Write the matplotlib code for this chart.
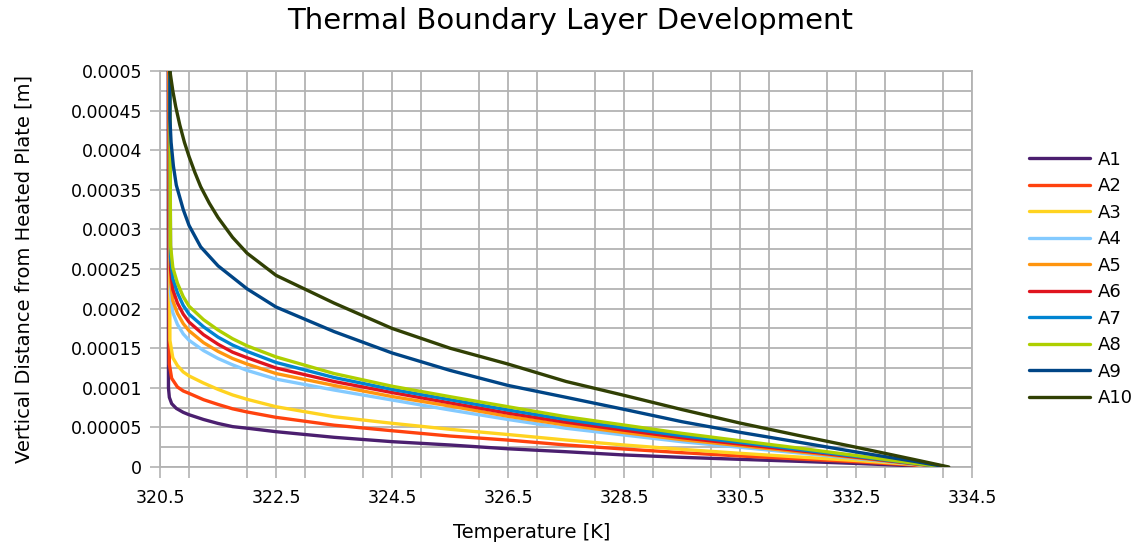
import matplotlib
matplotlib.use('Agg')
import matplotlib.pyplot as plt
from matplotlib.ticker import MultipleLocator

plt.rcParams['font.family'] = ['DejaVu Sans']

names = ['A1', 'A2', 'A3', 'A4', 'A5', 'A6', 'A7', 'A8', 'A9', 'A10']
colors = ['#4b1f6f', '#ff420e', '#ffd320', '#83caff', '#ff950e',
          '#e0141e', '#0084d1', '#aecf00', '#004586', '#314004']

# temperature [K] / height [m]
a1_t = [320.64, 320.645, 320.66, 320.7, 320.78, 320.9, 321.0, 321.25, 321.5, 321.75, 322.0, 322.5, 323.5,
        324.5, 325.5, 326.5, 327.5, 328.5, 329.5, 330.5, 331.5, 332.5, 333.5, 333.85]
a1_y = [0.0005, 0.0001, 0.000088, 0.00008, 0.000074, 0.000069, 0.000066, 0.00006, 0.000055, 0.000051,
        0.000049, 0.0000446, 0.0000375, 0.000032, 0.0000278, 0.000023, 0.0000193, 0.0000152, 0.0000122,
        0.0000097, 0.0000072, 0.0000045, 0.0000015, 0]

a2_t = [320.65, 320.66, 320.7, 320.8, 320.9, 321.0, 321.25, 321.5, 321.75, 322.0, 322.5, 323.5, 324.5,
        325.5, 326.5, 327.5, 328.5, 329.5, 330.5, 331.5, 332.5, 333.5, 333.9]
a2_y = [0.0005, 0.00013, 0.000112, 0.000101, 0.000096, 0.000093, 0.000085, 0.000079, 0.0000735, 0.0000695,
        0.0000627, 0.0000528, 0.0000458, 0.0000391, 0.000034, 0.0000278, 0.0000227, 0.0000181, 0.0000139,
        0.0000103, 0.0000067, 0.0000025, 0]

a3_t = [320.66, 320.67, 320.72, 320.8, 320.9, 321.0, 321.25, 321.5, 321.75, 322.0, 322.5, 323.5, 324.5,
        325.5, 326.5, 327.5, 328.5, 329.5, 330.5, 331.5, 332.5, 333.5, 333.95]
a3_y = [0.0005, 0.00016, 0.000138, 0.000128, 0.00012, 0.000115, 0.000106, 0.000098, 0.000091, 0.0000855,
        0.0000761, 0.0000635, 0.0000552, 0.0000476, 0.000041, 0.0000341, 0.0000278, 0.0000223, 0.0000173,
        0.0000127, 0.0000082, 0.0000032, 0]

mid_t = [320.67, 320.68, 320.72, 320.8, 320.9, 321.0, 321.25, 321.5, 321.75, 322.0, 322.5, 323.5, 324.5,
         325.5, 326.5, 327.5, 328.5, 329.5, 330.5, 331.5, 332.5, 333.5]
a4_t = mid_t + [334.0]
a4_y = [0.0005, 0.00022, 0.000195, 0.00018, 0.000168, 0.00016, 0.000147, 0.000137, 0.000129, 0.000122,
        0.000111, 0.0000972, 0.0000846, 0.000072, 0.00006, 0.0000489, 0.0000404, 0.0000319, 0.0000249,
        0.0000178, 0.0000106, 0.0000035, 0]
a5_t = mid_t + [334.0]
a5_y = [0.0005, 0.000235, 0.00021, 0.000194, 0.000181, 0.000172, 0.000157, 0.000146, 0.000137, 0.00013,
        0.000118, 0.000103, 0.000089, 0.000077, 0.000064, 0.000053, 0.0000435, 0.0000345, 0.000027,
        0.0000193, 0.0000116, 0.0000038, 0]
a6_t = mid_t + [334.02]
a6_y = [0.0005, 0.00025, 0.000224, 0.000207, 0.000193, 0.000183, 0.000167, 0.000155, 0.000145, 0.000138,
        0.000125, 0.000108, 0.000094, 0.000081, 0.000068, 0.0000565, 0.0000465, 0.000037, 0.000029,
        0.0000208, 0.0000125, 0.0000042, 0]
a7_t = mid_t + [334.03]
a7_y = [0.0005, 0.000265, 0.000238, 0.00022, 0.000204, 0.000193, 0.000177, 0.000164, 0.000154, 0.000146,
        0.000132, 0.000113, 0.000098, 0.000085, 0.000072, 0.00006, 0.0000495, 0.0000395, 0.000031,
        0.0000222, 0.0000134, 0.0000045, 0]
a8_t = mid_t + [334.04]
a8_y = [0.0005, 0.00028, 0.000252, 0.000232, 0.000215, 0.000203, 0.000186, 0.000173, 0.000162, 0.000153,
        0.000139, 0.000118, 0.000102, 0.0000888, 0.0000761, 0.0000635, 0.000053, 0.0000425, 0.0000332,
        0.000024, 0.0000145, 0.0000048, 0]

a9_t = [320.67, 320.67, 320.69, 320.73, 320.78, 320.9, 321.0, 321.2, 321.5, 322.0, 322.5, 323.5, 324.5,
        325.5, 326.5, 327.5, 328.5, 329.5, 330.5, 331.5, 332.5, 333.5, 334.07]
a9_y = [0.0005, 0.00044, 0.00041, 0.00038, 0.000356, 0.000325, 0.000305, 0.000278, 0.000254, 0.000225,
        0.000202, 0.000171, 0.000144, 0.000122, 0.000103, 0.000088, 0.0000728, 0.0000572, 0.0000438,
        0.0000315, 0.000019, 0.0000072, 0]

a10_t = [320.67, 320.69, 320.72, 320.77, 320.84, 320.92, 321.0, 321.1, 321.2, 321.35, 321.5, 321.75, 322.0,
         322.5, 323.5, 324.5, 325.5, 326.5, 327.5, 328.5, 329.5, 330.5, 331.5, 332.5, 333.5, 334.1]
a10_y = [0.0005, 0.00049, 0.000475, 0.000455, 0.000432, 0.00041, 0.000392, 0.000372, 0.000354, 0.000333,
         0.000315, 0.00029, 0.00027, 0.000242, 0.000207, 0.000175, 0.00015, 0.00013, 0.000108, 0.0000905,
         0.0000725, 0.0000555, 0.00004, 0.000025, 0.0000095, 0]

temps = [a1_t, a2_t, a3_t, a4_t, a5_t, a6_t, a7_t, a8_t, a9_t, a10_t]
heights = [a1_y, a2_y, a3_y, a4_y, a5_y, a6_y, a7_y, a8_y, a9_y, a10_y]

x_ticks = [320.5, 322.5, 324.5, 326.5, 328.5, 330.5, 332.5, 334.5]
x_labels = ['320.5', '322.5', '324.5', '326.5', '328.5', '330.5', '332.5', '334.5']
y_ticks = [0, 0.00005, 0.0001, 0.00015, 0.0002, 0.00025, 0.0003, 0.00035, 0.0004, 0.00045, 0.0005]
y_labels = ['0', '0.00005', '0.0001', '0.00015', '0.0002', '0.00025', '0.0003', '0.00035',
            '0.0004', '0.00045', '0.0005']

grid_c = '#b3b3b3'

fig = plt.figure(figsize=(11.4, 5.48), dpi=100)
ax = fig.add_axes([0.1404, 0.1478, 0.7122, 0.7226])

for t, y, n, c in zip(temps, heights, names, colors):
    ax.plot(t, y, color=c, lw=2.4, label=n, solid_capstyle='round', solid_joinstyle='round', zorder=3)

ax.set_xlim(320.5, 334.5)
ax.set_ylim(0, 0.0005)

ax.set_xticks(x_ticks)
ax.set_xticklabels(x_labels, fontsize=12.5)
ax.xaxis.set_minor_locator(MultipleLocator(1))
ax.set_yticks(y_ticks)
ax.set_yticklabels(y_labels, fontsize=12.5)
ax.yaxis.set_minor_locator(MultipleLocator(0.000025))

ax.tick_params(axis='x', which='both', length=8, width=1.2, color=grid_c, pad=8)
ax.tick_params(axis='y', which='major', length=7, width=1.2, color=grid_c, pad=6)
ax.tick_params(axis='y', which='minor', length=0)

ax.grid(True, which='both', color=grid_c, lw=1.3, zorder=0)
ax.set_axisbelow(True)
for s in ax.spines.values():
    s.set_color(grid_c)
    s.set_linewidth(1.3)

ax.set_xlabel('Temperature [K]', fontsize=14, labelpad=11, x=0.458)
ax.set_ylabel('Vertical Distance from Heated Plate [m]', fontsize=14, labelpad=27)
fig.suptitle('Thermal Boundary Layer Development', fontsize=21, y=0.988)

ax.legend(loc='center left', bbox_to_anchor=(1.05, 0.475), frameon=False, fontsize=13,
          handlelength=3.4, labelspacing=0.47, handletextpad=0.4)

fig.savefig('out.png', dpi=100)
